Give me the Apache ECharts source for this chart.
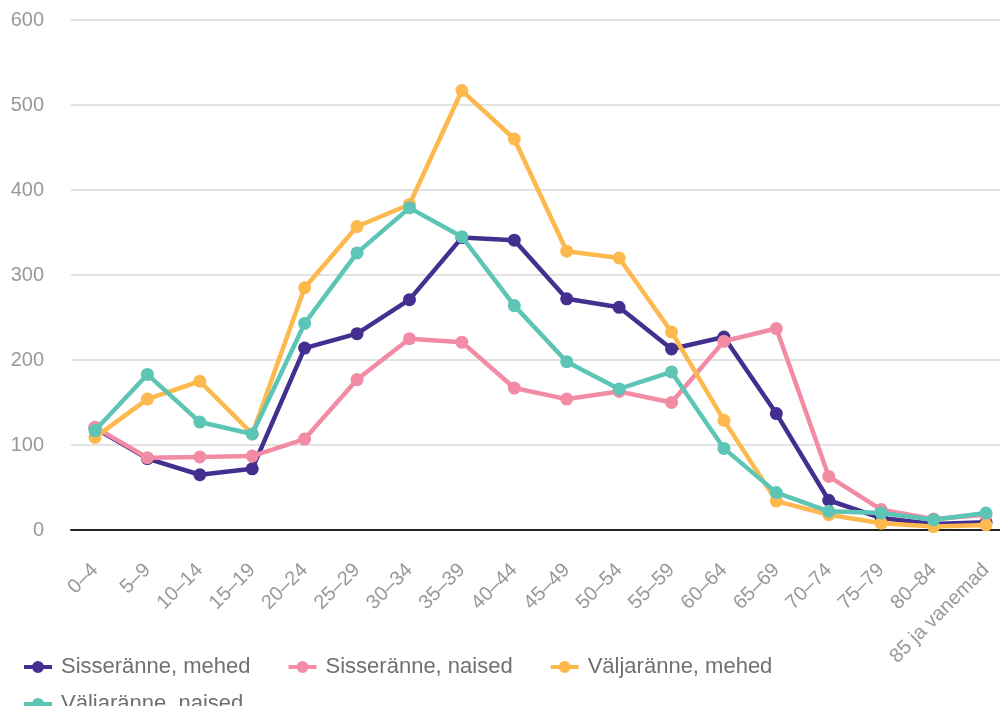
<!DOCTYPE html>
<html>
<head>
<meta charset="utf-8">
<script src="https://cdn.jsdelivr.net/npm/echarts@6/dist/echarts.min.js"></script>
<style>html,body{margin:0;padding:0;background:#fff}#c{width:1000px;height:706px}</style>
</head>
<body>
<div id="c"></div>
<script>
const categories = ['0–4','5–9','10–14','15–19','20–24','25–29','30–34','35–39','40–44','45–49','50–54','55–59','60–64','65–69','70–74','75–79','80–84','85 ja vanemad'];
const seriesNames = ['Sisseränne, mehed','Sisseränne, naised','Väljaränne, mehed','Väljaränne, naised'];
const sisseMehed  = [120, 84, 65, 72, 214, 231, 271, 344, 341, 272, 262, 213, 227, 137, 35, 14, 7, 9];
const sisseNaised = [121, 85, 86, 87, 107, 177, 225, 221, 167, 154, 163, 150, 222, 237, 63, 24, 13, 18];
const valjaMehed  = [109, 154, 175, 113, 285, 357, 383, 517, 460, 328, 320, 233, 129, 34, 18, 8, 4, 6];
const valjaNaised = [117, 183, 127, 113, 243, 326, 379, 345, 264, 198, 166, 186, 96, 44, 22, 20, 12, 20];
const yTicks = [0, 100, 200, 300, 400, 500, 600];
const colors = ['#432f8f', '#f28ca5', '#fdb84e', '#5cc5b5'];

const chart = echarts.init(document.getElementById('c'), null, {renderer: 'canvas'});
const font = 'Liberation Sans, Arial, Helvetica, sans-serif';
const dataArr = [sisseMehed, sisseNaised, valjaMehed, valjaNaised];
const legendIcon = 'path://M0,4 L9,4 L9,8 L0,8 Z M19,4 L28,4 L28,8 L19,8 Z M8,6 A6,6 0 1 1 20,6 A6,6 0 1 1 8,6 Z';
const legendCommon = {
  orient: 'horizontal',
  itemWidth: 28, itemHeight: 12, itemGap: 38,
  icon: legendIcon,
  textStyle: {color: '#707070', fontSize: 22, fontFamily: font, padding: [0, 0, 0, 4]}
};
const yMin = yTicks[0], yMax = yTicks[yTicks.length - 1];
chart.setOption({
  animation: false,
  color: colors,
  textStyle: {fontFamily: font},
  grid: [
    {left: 71, right: 0, top: 20, bottom: 176},
    {left: 95, right: 14, top: 20, bottom: 176}
  ],
  legend: [
    Object.assign({}, legendCommon, {left: 19, top: 651, data: seriesNames.slice(0,3)}),
    Object.assign({}, legendCommon, {left: 19, top: 688, data: seriesNames.slice(3)})
  ],
  xAxis: [
    {
      type: 'category', gridIndex: 0, data: categories,
      axisLine: {lineStyle: {color: '#222', width: 2}},
      axisTick: {show: false}, axisLabel: {show: false}, splitLine: {show: false}
    },
    {
      type: 'category', gridIndex: 1, data: categories, boundaryGap: false,
      axisLine: {show: false},
      axisTick: {show: false},
      axisLabel: {rotate: 45, color: '#999', fontSize: 20, margin: 37, interval: 0, fontFamily: font}
    }
  ],
  yAxis: [
    {
      type: 'value', gridIndex: 0,
      min: yMin, max: yMax, interval: 100,
      axisLine: {show: false}, axisTick: {show: false},
      splitLine: {lineStyle: {color: '#e2e2e2', width: 2}},
      axisLabel: {color: '#999', fontSize: 20, margin: 27, fontFamily: font}
    },
    {
      type: 'value', gridIndex: 1,
      min: yMin, max: yMax, interval: 100,
      axisLine: {show: false}, axisTick: {show: false},
      splitLine: {show: false}, axisLabel: {show: false}
    }
  ],
  series: seriesNames.map((n, i) => ({
    name: n,
    type: 'line',
    xAxisIndex: 1, yAxisIndex: 1,
    data: dataArr[i],
    symbol: 'circle',
    symbolSize: 13,
    showSymbol: true,
    lineStyle: {width: 4.5, color: colors[i]},
    itemStyle: {color: colors[i]},
    z: 2 + i
  }))
});
</script>
</body>
</html>
